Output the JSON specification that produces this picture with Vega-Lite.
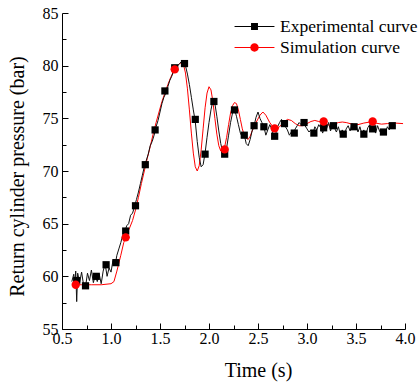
{
  "$schema": "https://vega.github.io/schema/vega-lite/v6.json",
  "width": 343,
  "height": 316,
  "autosize": "none",
  "padding": {"left": 62, "top": 13, "right": 14, "bottom": 57},
  "background": "white",
  "config": {
    "view": {"stroke": null},
    "font": "Liberation Serif",
    "axis": {
      "grid": false,
      "domainColor": "black",
      "domainWidth": 1,
      "tickColor": "black",
      "tickWidth": 1,
      "labelFont": "Liberation Serif",
      "labelFontSize": 16,
      "labelColor": "black",
      "titleFont": "Liberation Serif",
      "titleFontSize": 20,
      "titleFontWeight": "normal",
      "titleColor": "black",
      "labelOverlap": false,
      "labelFlush": false
    },
    "legend": {"labelFont": "Liberation Serif"}
  },
  "datasets": {
    "exp": [
      {"t": 0.60, "p": 59.5}, {"t": 0.62, "p": 60.2}, {"t": 0.63, "p": 59.3}, {"t": 0.64, "p": 60.5}, {"t": 0.65, "p": 57.6},
      {"t": 0.66, "p": 60.3}, {"t": 0.68, "p": 59.4}, {"t": 0.70, "p": 60.4}, {"t": 0.72, "p": 59.2}, {"t": 0.74, "p": 59.0},
      {"t": 0.76, "p": 60.3}, {"t": 0.78, "p": 59.6}, {"t": 0.80, "p": 60.6}, {"t": 0.82, "p": 59.4}, {"t": 0.84, "p": 60.1},
      {"t": 0.86, "p": 59.5}, {"t": 0.88, "p": 60.2}, {"t": 0.90, "p": 59.3}, {"t": 0.92, "p": 60.5}, {"t": 0.94, "p": 61.2},
      {"t": 0.96, "p": 60.0}, {"t": 0.98, "p": 60.8}, {"t": 1.00, "p": 60.4}, {"t": 1.02, "p": 61.5}, {"t": 1.04, "p": 61.0},
      {"t": 1.06, "p": 62.0}, {"t": 1.08, "p": 62.6}, {"t": 1.10, "p": 63.2}, {"t": 1.12, "p": 63.9}, {"t": 1.14, "p": 64.2},
      {"t": 1.16, "p": 64.8}, {"t": 1.18, "p": 65.0}, {"t": 1.20, "p": 65.8}, {"t": 1.22, "p": 66.0}, {"t": 1.24, "p": 66.6},
      {"t": 1.26, "p": 67.3}, {"t": 1.28, "p": 68.0}, {"t": 1.30, "p": 68.8}, {"t": 1.32, "p": 69.6}, {"t": 1.34, "p": 70.4},
      {"t": 1.36, "p": 71.0}, {"t": 1.38, "p": 71.6}, {"t": 1.40, "p": 72.4}, {"t": 1.42, "p": 72.8}, {"t": 1.44, "p": 73.4},
      {"t": 1.46, "p": 74.2}, {"t": 1.48, "p": 74.8}, {"t": 1.50, "p": 75.6}, {"t": 1.52, "p": 76.4}, {"t": 1.54, "p": 77.0},
      {"t": 1.56, "p": 77.4}, {"t": 1.58, "p": 78.0}, {"t": 1.60, "p": 78.6}, {"t": 1.62, "p": 79.0}, {"t": 1.64, "p": 79.5},
      {"t": 1.66, "p": 79.8}, {"t": 1.68, "p": 80.0}, {"t": 1.70, "p": 80.2}, {"t": 1.72, "p": 80.4}, {"t": 1.74, "p": 80.3},
      {"t": 1.76, "p": 80.0}, {"t": 1.78, "p": 79.2}, {"t": 1.80, "p": 78.2}, {"t": 1.82, "p": 77.0}, {"t": 1.84, "p": 75.8},
      {"t": 1.86, "p": 74.7}, {"t": 1.88, "p": 72.8}, {"t": 1.90, "p": 71.3}, {"t": 1.92, "p": 70.4}, {"t": 1.94, "p": 70.6},
      {"t": 1.96, "p": 71.7}, {"t": 1.98, "p": 73.2}, {"t": 2.00, "p": 74.6}, {"t": 2.02, "p": 75.8}, {"t": 2.04, "p": 76.7},
      {"t": 2.06, "p": 76.4}, {"t": 2.08, "p": 75.2}, {"t": 2.10, "p": 73.8}, {"t": 2.12, "p": 72.6}, {"t": 2.14, "p": 71.8},
      {"t": 2.16, "p": 71.5}, {"t": 2.18, "p": 72.2}, {"t": 2.20, "p": 73.4}, {"t": 2.22, "p": 74.6}, {"t": 2.24, "p": 75.5},
      {"t": 2.26, "p": 75.9}, {"t": 2.28, "p": 75.2}, {"t": 2.30, "p": 74.4}, {"t": 2.32, "p": 73.6}, {"t": 2.34, "p": 73.2},
      {"t": 2.36, "p": 73.4}, {"t": 2.38, "p": 72.6}, {"t": 2.40, "p": 72.4}, {"t": 2.42, "p": 73.0}, {"t": 2.44, "p": 73.8},
      {"t": 2.46, "p": 74.3}, {"t": 2.48, "p": 75.1}, {"t": 2.50, "p": 75.6}, {"t": 2.52, "p": 75.0}, {"t": 2.54, "p": 74.6},
      {"t": 2.56, "p": 74.2}, {"t": 2.58, "p": 73.4}, {"t": 2.60, "p": 73.9}, {"t": 2.62, "p": 74.4}, {"t": 2.64, "p": 74.0},
      {"t": 2.66, "p": 73.3}, {"t": 2.68, "p": 73.5}, {"t": 2.70, "p": 74.2}, {"t": 2.72, "p": 74.6}, {"t": 2.74, "p": 74.9},
      {"t": 2.76, "p": 74.5}, {"t": 2.78, "p": 74.2}, {"t": 2.80, "p": 73.9}, {"t": 2.82, "p": 73.4}, {"t": 2.84, "p": 73.7},
      {"t": 2.86, "p": 73.5}, {"t": 2.88, "p": 74.0}, {"t": 2.90, "p": 74.3}, {"t": 2.92, "p": 74.6}, {"t": 2.94, "p": 74.4},
      {"t": 2.96, "p": 74.7}, {"t": 2.98, "p": 74.3}, {"t": 3.00, "p": 74.0}, {"t": 3.02, "p": 73.7}, {"t": 3.04, "p": 73.9},
      {"t": 3.06, "p": 73.5}, {"t": 3.08, "p": 74.2}, {"t": 3.10, "p": 73.9}, {"t": 3.12, "p": 74.4}, {"t": 3.14, "p": 74.1},
      {"t": 3.16, "p": 73.6}, {"t": 3.18, "p": 74.3}, {"t": 3.20, "p": 74.0}, {"t": 3.22, "p": 74.6}, {"t": 3.24, "p": 73.8},
      {"t": 3.26, "p": 74.4}, {"t": 3.28, "p": 74.1}, {"t": 3.30, "p": 73.7}, {"t": 3.32, "p": 74.2}, {"t": 3.34, "p": 73.5},
      {"t": 3.36, "p": 73.9}, {"t": 3.38, "p": 73.4}, {"t": 3.40, "p": 74.0}, {"t": 3.42, "p": 74.3}, {"t": 3.44, "p": 73.8},
      {"t": 3.46, "p": 74.5}, {"t": 3.48, "p": 74.0}, {"t": 3.50, "p": 74.4}, {"t": 3.52, "p": 73.7}, {"t": 3.54, "p": 74.2},
      {"t": 3.56, "p": 73.5}, {"t": 3.58, "p": 73.9}, {"t": 3.60, "p": 73.4}, {"t": 3.62, "p": 74.1}, {"t": 3.64, "p": 74.4},
      {"t": 3.66, "p": 73.8}, {"t": 3.68, "p": 74.2}, {"t": 3.70, "p": 73.6}, {"t": 3.72, "p": 74.3}, {"t": 3.74, "p": 73.8},
      {"t": 3.76, "p": 73.5}, {"t": 3.78, "p": 73.9}, {"t": 3.80, "p": 73.6}, {"t": 3.82, "p": 74.2}, {"t": 3.84, "p": 73.9},
      {"t": 3.86, "p": 74.5}, {"t": 3.88, "p": 74.0}, {"t": 3.90, "p": 74.3}
    ],
    "sim": [
      {"t": 0.62, "p": 59.2}, {"t": 0.70, "p": 59.2}, {"t": 0.80, "p": 59.2}, {"t": 0.90, "p": 59.2}, {"t": 1.00, "p": 59.3},
      {"t": 1.03, "p": 59.5}, {"t": 1.06, "p": 60.5}, {"t": 1.10, "p": 62.0}, {"t": 1.13, "p": 63.2}, {"t": 1.16, "p": 64.0},
      {"t": 1.19, "p": 64.6}, {"t": 1.22, "p": 65.3}, {"t": 1.25, "p": 66.3}, {"t": 1.28, "p": 67.5}, {"t": 1.31, "p": 68.8},
      {"t": 1.34, "p": 70.0}, {"t": 1.37, "p": 71.2}, {"t": 1.40, "p": 72.3}, {"t": 1.43, "p": 73.5}, {"t": 1.46, "p": 74.6},
      {"t": 1.49, "p": 75.6}, {"t": 1.52, "p": 76.6}, {"t": 1.55, "p": 77.4}, {"t": 1.58, "p": 78.2}, {"t": 1.61, "p": 78.9},
      {"t": 1.64, "p": 79.5}, {"t": 1.67, "p": 79.9}, {"t": 1.70, "p": 80.2}, {"t": 1.72, "p": 80.3}, {"t": 1.74, "p": 80.1},
      {"t": 1.76, "p": 79.3}, {"t": 1.78, "p": 77.8}, {"t": 1.80, "p": 75.8}, {"t": 1.82, "p": 73.6}, {"t": 1.84, "p": 71.7},
      {"t": 1.86, "p": 70.4}, {"t": 1.88, "p": 70.0}, {"t": 1.90, "p": 70.5}, {"t": 1.92, "p": 72.0}, {"t": 1.94, "p": 74.0},
      {"t": 1.96, "p": 76.0}, {"t": 1.98, "p": 77.4}, {"t": 2.00, "p": 78.0}, {"t": 2.02, "p": 77.7}, {"t": 2.04, "p": 76.6},
      {"t": 2.06, "p": 75.0}, {"t": 2.08, "p": 73.5}, {"t": 2.10, "p": 72.4}, {"t": 2.12, "p": 71.9}, {"t": 2.14, "p": 71.9},
      {"t": 2.16, "p": 72.3}, {"t": 2.18, "p": 73.2}, {"t": 2.20, "p": 74.4}, {"t": 2.22, "p": 75.5}, {"t": 2.24, "p": 76.2},
      {"t": 2.26, "p": 76.5}, {"t": 2.28, "p": 76.4}, {"t": 2.30, "p": 75.8}, {"t": 2.32, "p": 74.9}, {"t": 2.34, "p": 74.0},
      {"t": 2.36, "p": 73.4}, {"t": 2.38, "p": 73.1}, {"t": 2.40, "p": 73.0}, {"t": 2.42, "p": 73.3}, {"t": 2.44, "p": 73.8},
      {"t": 2.48, "p": 74.6}, {"t": 2.52, "p": 75.3}, {"t": 2.55, "p": 75.6}, {"t": 2.58, "p": 75.3}, {"t": 2.62, "p": 74.6},
      {"t": 2.66, "p": 74.1}, {"t": 2.69, "p": 74.0}, {"t": 2.72, "p": 74.2}, {"t": 2.76, "p": 74.6}, {"t": 2.80, "p": 74.9},
      {"t": 2.84, "p": 74.8}, {"t": 2.88, "p": 74.5}, {"t": 2.92, "p": 74.3}, {"t": 2.96, "p": 74.3}, {"t": 3.00, "p": 74.5},
      {"t": 3.04, "p": 74.7}, {"t": 3.08, "p": 74.8}, {"t": 3.12, "p": 74.7}, {"t": 3.16, "p": 74.6}, {"t": 3.20, "p": 74.4},
      {"t": 3.24, "p": 74.35}, {"t": 3.28, "p": 74.45}, {"t": 3.32, "p": 74.6}, {"t": 3.36, "p": 74.65}, {"t": 3.40, "p": 74.6},
      {"t": 3.46, "p": 74.45}, {"t": 3.52, "p": 74.4}, {"t": 3.58, "p": 74.55}, {"t": 3.64, "p": 74.65}, {"t": 3.70, "p": 74.55},
      {"t": 3.76, "p": 74.45}, {"t": 3.82, "p": 74.5}, {"t": 3.90, "p": 74.55}, {"t": 3.98, "p": 74.5}
    ],
    "markers": [
      {"t": 0.65, "p": 59.6, "series": "Experimental curve"}, {"t": 0.74, "p": 59.1, "series": "Experimental curve"},
      {"t": 0.85, "p": 60.0, "series": "Experimental curve"}, {"t": 0.95, "p": 61.1, "series": "Experimental curve"},
      {"t": 1.05, "p": 61.3, "series": "Experimental curve"}, {"t": 1.15, "p": 64.3, "series": "Experimental curve"},
      {"t": 1.25, "p": 66.7, "series": "Experimental curve"}, {"t": 1.35, "p": 70.6, "series": "Experimental curve"},
      {"t": 1.45, "p": 73.9, "series": "Experimental curve"}, {"t": 1.55, "p": 77.6, "series": "Experimental curve"},
      {"t": 1.65, "p": 79.8, "series": "Experimental curve"}, {"t": 1.75, "p": 80.2, "series": "Experimental curve"},
      {"t": 1.86, "p": 74.9, "series": "Experimental curve"}, {"t": 1.96, "p": 71.6, "series": "Experimental curve"},
      {"t": 2.05, "p": 76.6, "series": "Experimental curve"}, {"t": 2.16, "p": 71.6, "series": "Experimental curve"},
      {"t": 2.26, "p": 75.8, "series": "Experimental curve"}, {"t": 2.36, "p": 73.4, "series": "Experimental curve"},
      {"t": 2.46, "p": 74.3, "series": "Experimental curve"}, {"t": 2.56, "p": 74.2, "series": "Experimental curve"},
      {"t": 2.67, "p": 73.3, "series": "Experimental curve"}, {"t": 2.77, "p": 74.5, "series": "Experimental curve"},
      {"t": 2.87, "p": 73.6, "series": "Experimental curve"}, {"t": 2.97, "p": 74.6, "series": "Experimental curve"},
      {"t": 3.07, "p": 73.6, "series": "Experimental curve"}, {"t": 3.17, "p": 74.1, "series": "Experimental curve"},
      {"t": 3.27, "p": 74.3, "series": "Experimental curve"}, {"t": 3.37, "p": 73.5, "series": "Experimental curve"},
      {"t": 3.48, "p": 74.2, "series": "Experimental curve"}, {"t": 3.58, "p": 73.5, "series": "Experimental curve"},
      {"t": 3.67, "p": 74.0, "series": "Experimental curve"}, {"t": 3.78, "p": 73.7, "series": "Experimental curve"},
      {"t": 3.87, "p": 74.3, "series": "Experimental curve"},
      {"t": 0.64, "p": 59.2, "series": "Simulation curve"}, {"t": 1.15, "p": 63.7, "series": "Simulation curve"},
      {"t": 1.65, "p": 79.65, "series": "Simulation curve"}, {"t": 2.16, "p": 72.05, "series": "Simulation curve"},
      {"t": 2.67, "p": 74.05, "series": "Simulation curve"}, {"t": 3.17, "p": 74.7, "series": "Simulation curve"},
      {"t": 3.67, "p": 74.7, "series": "Simulation curve"}
    ]
  },
  "encoding": {
    "x": {
      "field": "t", "type": "quantitative",
      "scale": {"domain": [0.5, 4.0], "nice": false, "zero": false},
      "axis": {
        "title": "Time (s)",
        "values": [0.5, 0.75, 1.0, 1.25, 1.5, 1.75, 2.0, 2.25, 2.5, 2.75, 3.0, 3.25, 3.5, 3.75, 4.0],
        "labelExpr": "datum.value % 0.5 === 0 ? format(datum.value, '.1f') : ''",
        "labelFont": "Liberation Serif",
        "tickSize": {"condition": {"test": "datum.value % 0.5 === 0", "value": -6}, "value": -4},
        "labelPadding": 7,
        "titleX": 196,
        "titleY": 47,
        "titleBaseline": "alphabetic",
        "titleAnchor": "middle"
      }
    },
    "y": {
      "field": "p", "type": "quantitative",
      "scale": {"domain": [55, 85], "nice": false, "zero": false},
      "axis": {
        "title": "Return cylinder pressure (bar)",
        "values": [55, 57.5, 60, 62.5, 65, 67.5, 70, 72.5, 75, 77.5, 80, 82.5, 85],
        "labelExpr": "datum.value % 5 === 0 ? format(datum.value, 'd') : ''",
        "labelFont": "Liberation Serif",
        "tickSize": {"condition": {"test": "datum.value % 5 === 0", "value": -6}, "value": -4},
        "labelPadding": 10,
        "titleX": -45,
        "titleY": 163,
        "titleAngle": -90,
        "titleBaseline": "middle",
        "titleAlign": "center"
      }
    }
  },
  "layer": [
    {
      "data": {"name": "sim"},
      "mark": {"type": "line", "color": "#ff0000", "strokeWidth": 1}
    },
    {
      "data": {"name": "exp"},
      "mark": {"type": "line", "color": "#111111", "strokeWidth": 1}
    },
    {
      "data": {"name": "markers"},
      "mark": {"type": "point", "filled": true, "opacity": 1, "strokeWidth": 0},
      "encoding": {
        "color": {
          "field": "series", "type": "nominal",
          "scale": {"domain": ["Experimental curve", "Simulation curve"], "range": ["#000000", "#ff0000"]},
          "legend": {
            "title": null,
            "orient": "none",
            "legendX": 181,
            "legendY": 2,
            "padding": 0,
            "symbolSize": 441,
            "symbolType": {"expr": "datum.value === 'Experimental curve' ? 'M-1.9,-0.05H1.9V0.05H-1.9ZM-0.33,-0.33H0.33V0.33H-0.33Z' : 'M-1.9,-0.05H1.9V0.05H-1.9ZM0.4,0A0.4,0.4,0,1,1,-0.4,0A0.4,0.4,0,1,1,0.4,0Z'"},
            "labelFont": "Liberation Serif",
            "labelFontSize": 17.5,
            "labelColor": "black",
            "labelOffset": 14,
            "rowPadding": 1,
            "encode": {
              "symbols": {
                "size": {"value": 441}
              }
            }
          }
        },
        "shape": {"condition": {"test": "datum.series === 'Experimental curve'", "value": "square"}, "value": "circle"},
        "size": {"condition": {"test": "datum.series === 'Experimental curve'", "value": 52}, "value": 70}
      }
    }
  ]
}
